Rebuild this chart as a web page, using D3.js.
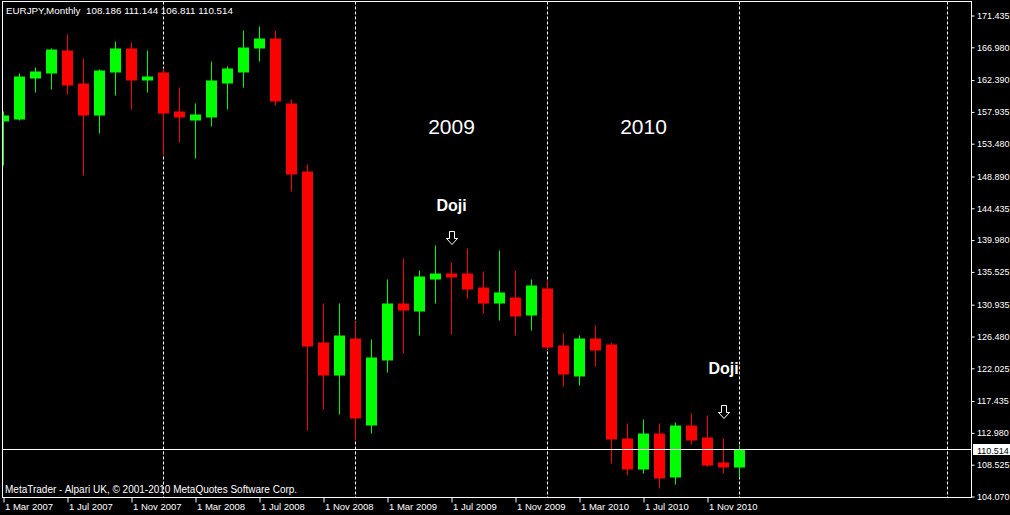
<!DOCTYPE html>
<html>
<head>
<meta charset="utf-8">
<script src="https://cdn.jsdelivr.net/npm/d3@7/dist/d3.min.js"></script>
<style>
  html, body { margin: 0; padding: 0; background: #000; }
  svg { display: block; }
  text { font-family: "Liberation Sans", Arial, sans-serif; }
</style>
</head>
<body>
<svg id="chart" width="1010" height="515"></svg>
<script>
// ---------- DATA ----------
const months = ["Mar 2007","Apr 2007","May 2007","Jun 2007","Jul 2007","Aug 2007","Sep 2007","Oct 2007","Nov 2007","Dec 2007",
  "Jan 2008","Feb 2008","Mar 2008","Apr 2008","May 2008","Jun 2008","Jul 2008","Aug 2008","Sep 2008","Oct 2008","Nov 2008","Dec 2008",
  "Jan 2009","Feb 2009","Mar 2009","Apr 2009","May 2009","Jun 2009","Jul 2009","Aug 2009","Sep 2009","Oct 2009","Nov 2009","Dec 2009",
  "Jan 2010","Feb 2010","Mar 2010","Apr 2010","May 2010","Jun 2010","Jul 2010","Aug 2010","Sep 2010","Oct 2010","Nov 2010","Dec 2010",
  "Jan 2011"];
const openValues  = [156.632,156.870,162.752,163.452,166.533,161.911,157.570,163.592,166.813,162.332,
  163.312,157.850,156.730,157.150,162.052,163.592,166.813,168.074,159.110,149.447,125.498,121.156,
  126.198,114.154,123.117,130.960,130.120,134.461,135.162,135.162,133.201,131.100,131.940,129.419,
  133.061,125.078,121.016,126.198,125.218,112.193,107.991,112.893,106.731,113.874,112.333,108.692,
  108.186];
const highValues  = [157.850,163.172,164.152,166.813,168.774,165.273,163.872,167.654,167.514,166.533,
  164.012,161.351,159.110,164.853,164.292,169.334,169.894,169.334,159.531,150.567,130.960,130.960,
  128.579,126.058,134.461,137.402,135.582,139.223,136.842,138.663,135.442,138.383,135.582,134.461,
  134.321,126.898,126.618,127.879,125.498,114.154,114.714,114.154,114.294,115.694,115.414,112.193,
  111.144];
const lowValues   = [150.567,156.730,160.791,161.211,160.371,149.027,154.909,160.231,158.410,160.651,
  151.828,153.788,151.408,156.029,158.410,161.491,164.993,158.970,146.786,113.453,116.255,115.694,
  111.913,113.033,121.576,124.237,126.758,131.240,126.898,131.940,129.700,128.859,126.758,127.319,
  124.658,119.476,119.616,122.277,108.692,107.151,107.431,105.330,105.751,111.353,108.272,107.431,
  106.811];
const closeValues = [157.290,162.752,163.592,166.673,161.771,157.570,163.732,166.813,162.472,162.752,
  157.710,157.150,157.430,162.192,164.012,166.953,168.074,159.391,149.307,125.078,121.016,126.618,
  115.134,123.537,130.960,130.120,134.881,135.162,134.741,133.061,131.100,132.501,129.419,133.481,
  124.938,121.156,126.198,124.658,112.053,107.991,112.893,106.731,113.874,111.913,108.552,108.190,
  110.514];

const priceTicks = [171.435,166.980,162.390,157.935,153.480,148.890,144.435,139.980,
  135.525,130.935,126.480,122.025,117.435,112.980,108.525,104.070];
const dateTickIndex  = [0,4,8,12,16,20,24,28,32,36,40,44];
const dateTickLabels = ["1 Mar 2007","1 Jul 2007","1 Nov 2007","1 Mar 2008","1 Jul 2008","1 Nov 2008",
  "1 Mar 2009","1 Jul 2009","1 Nov 2009","1 Mar 2010","1 Jul 2010","1 Nov 2010"];
const separatorIndex = [10,22,34,46,59];

const symbolTitle = "EURJPY,Monthly";
const lastQuote = "108.186 111.144 106.811 110.514";
const bidPrice = 110.514;
const copyrightText = "MetaTrader - Alpari UK, \u00A9 2001-2010 MetaQuotes Software Corp.";
const yearLabels = [{text:"2009", index:28, price:154.9}, {text:"2010", index:40, price:154.9}];
const dojiMarks = [{index:28, labelPrice:144.1, arrowPrice:141.2}, {index:45, labelPrice:121.2, arrowPrice:116.95}];

// ---------- LAYOUT ----------
const W = 1010, H = 515;
const frame = {left: 2.5, top: 1.5, right: 971.5, bottom: 497.5};
const UP = "#00ff00", DOWN = "#ff0000", FG = "#ffffff";

const svg = d3.select("#chart");
svg.append("rect").attr("width", W).attr("height", H).attr("fill", "#000");

const x = d3.scaleLinear().domain([0, 46]).range([3.5, 739.5]);
const y = d3.scaleLinear().domain([104.070, 171.435]).range([496.5, 15.5]);

const defs = svg.append("defs");
defs.append("clipPath").attr("id", "plotclip").append("rect")
  .attr("x", frame.left + 0.5).attr("y", frame.top + 0.5)
  .attr("width", frame.right - frame.left - 1).attr("height", frame.bottom - frame.top - 1);

const plot = svg.append("g").attr("clip-path", "url(#plotclip)");

// period separators
plot.selectAll("line.sep").data(separatorIndex).enter().append("line")
  .attr("x1", d => x(d)).attr("x2", d => x(d))
  .attr("y1", frame.top).attr("y2", frame.bottom)
  .attr("stroke", FG).attr("stroke-width", 1).attr("stroke-dasharray", "3,2");

// candles
const candles = months.map((m, i) => ({m, i, o: openValues[i], h: highValues[i], l: lowValues[i], c: closeValues[i]}));
const g = plot.selectAll("g.candle").data(candles).enter().append("g");
g.append("line")
  .attr("x1", d => x(d.i)).attr("x2", d => x(d.i))
  .attr("y1", d => Math.round(y(d.h)) - 0.5).attr("y2", d => Math.round(y(d.l)) + 0.5)
  .attr("stroke", d => d.c >= d.o ? UP : DOWN).attr("stroke-width", 1);
g.append("rect")
  .attr("x", d => x(d.i) - 5.5)
  .attr("width", 11)
  .attr("y", d => Math.round(y(Math.max(d.o, d.c))) - 0.5)
  .attr("height", d => Math.max(2, Math.round(Math.abs(y(d.o) - y(d.c))) + 1))
  .attr("fill", d => d.c >= d.o ? UP : DOWN);

// bid line
plot.append("line")
  .attr("x1", frame.left).attr("x2", frame.right)
  .attr("y1", Math.round(y(bidPrice)) - 0.5).attr("y2", Math.round(y(bidPrice)) - 0.5)
  .attr("stroke", FG).attr("stroke-width", 1);

// frame
svg.append("rect")
  .attr("x", frame.left).attr("y", frame.top)
  .attr("width", frame.right - frame.left).attr("height", frame.bottom - frame.top)
  .attr("fill", "none").attr("stroke", FG).attr("stroke-width", 1);

// price axis
const yAxis = d3.axisRight(y).tickValues(priceTicks).tickFormat(d3.format(".3f")).tickSize(3).tickPadding(2.5);
const ya = svg.append("g").attr("transform", `translate(${frame.right},0)`).call(yAxis);
ya.select(".domain").remove();
ya.selectAll(".tick line").attr("stroke", FG);
ya.selectAll(".tick text").attr("fill", FG).attr("font-size", "9px")
  .attr("font-family", "'Liberation Sans', Arial, sans-serif");

// bid label
const by = Math.round(y(bidPrice));
svg.append("rect").attr("x", 973).attr("y", by - 6).attr("width", 37).attr("height", 11).attr("fill", FG);
svg.append("text").attr("x", 977).attr("y", by + 3.5).attr("fill", "#000")
  .attr("font-size", "9px").text(d3.format(".3f")(bidPrice));

// date axis
const xAxis = d3.axisBottom(x).tickValues(dateTickIndex)
  .tickFormat((d, k) => dateTickLabels[k]).tickSize(5).tickPadding(1);
const xa = svg.append("g").attr("transform", `translate(0,${frame.bottom})`).call(xAxis);
xa.select(".domain").remove();
xa.selectAll(".tick line").attr("stroke", FG);
xa.selectAll(".tick text").attr("fill", FG).attr("font-size", "9.5px")
  .attr("text-anchor", "start").attr("dx", "1")
  .attr("font-family", "'Liberation Sans', Arial, sans-serif");

// title
svg.append("text").attr("x", 6).attr("y", 14).attr("fill", FG).attr("font-size", "9.8px").text(symbolTitle);
svg.append("text").attr("x", 86).attr("y", 14).attr("fill", FG).attr("font-size", "9.8px").text(lastQuote);

// copyright
svg.append("text").attr("x", 5).attr("y", 493).attr("fill", FG).attr("font-size", "10px").text(copyrightText);

// year labels
svg.selectAll("text.year").data(yearLabels).enter().append("text")
  .attr("x", d => x(d.index)).attr("y", d => y(d.price))
  .attr("text-anchor", "middle").attr("fill", FG).attr("font-size", "21px").text(d => d.text);

// doji annotations
svg.selectAll("text.doji").data(dojiMarks).enter().append("text")
  .attr("x", d => x(d.index)).attr("y", d => y(d.labelPrice))
  .attr("text-anchor", "middle").attr("fill", FG).attr("font-size", "16px").attr("font-weight", "bold")
  .text("Doji");

const arrowPath = cx => {
  const t = 0;
  return `M${cx-2.5},${t} L${cx+2.5},${t} L${cx+2.5},${t+7} L${cx+5.5},${t+7} L${cx},${t+13} L${cx-5.5},${t+7} L${cx-2.5},${t+7} Z`;
};
svg.selectAll("path.arrow").data(dojiMarks).enter().append("path")
  .attr("transform", d => `translate(0,${Math.round(y(d.arrowPrice)) + 0.5})`)
  .attr("d", d => arrowPath(Math.round(x(d.index))))
  .attr("fill", "#000").attr("stroke", FG).attr("stroke-width", 1);
</script>
</body>
</html>
